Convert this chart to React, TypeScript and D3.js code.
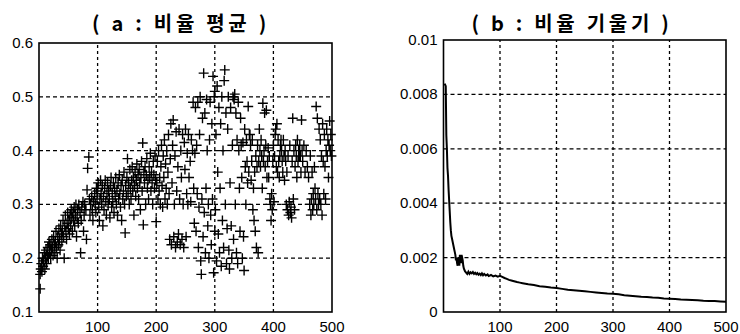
import React, { useEffect, useRef } from 'react';
import * as d3 from 'd3';

// (a) 비율 평균 - scatter points, split by x range
const ptsA: [number, number][] = [
  [2,0.143],[2,0.17],[3,0.18],[4,0.19],[5,0.175],[6,0.2],[7,0.185],[8,0.195],[9,0.21],[10,0.18],
  [11,0.2],[12,0.215],[13,0.19],[14,0.205],[15,0.22],[16,0.2],[17,0.23],[18,0.21],[19,0.225],[20,0.2],
  [21,0.215],[22,0.235],[23,0.22],[24,0.205],[25,0.24],[26,0.225],[27,0.21],[28,0.23],[29,0.25],[30,0.22],
  [31,0.2],[32,0.24],[33,0.225],[34,0.255],[35,0.235],[36,0.215],[37,0.26],[38,0.245],[39,0.23],[40,0.25],
  [41,0.27],[42,0.24],[43,0.2],[44,0.26],[45,0.28],[46,0.25],[47,0.235],[48,0.265],[49,0.285],[50,0.255],
  [51,0.27],[52,0.245],[53,0.28],[54,0.26],[55,0.29],[56,0.275],[57,0.25],[58,0.285],[59,0.27],[60,0.295],
  [61,0.26],[62,0.28],[63,0.3],[64,0.24],[65,0.275],[66,0.29],[67,0.265],[68,0.3],[70,0.285],[71,0.21],
  [72,0.27],[73,0.295],[75,0.305],[76,0.25],[77,0.28],[78,0.3],[80,0.29],[81,0.235],[82,0.327],[83,0.367],
  [85,0.388],[86,0.31],[87,0.28],[88,0.3],[90,0.315],[91,0.29],[92,0.27],[93,0.305],[95,0.32],[96,0.3],
  [97,0.285],[98,0.33],[99,0.31]
];
const ptsB: [number, number][] = [
  [100,0.325],[101,0.34],[102,0.295],[103,0.27],[104,0.31],[105,0.345],[106,0.32],[107,0.3],[108,0.335],[109,0.26],
  [110,0.315],[111,0.29],[112,0.33],[113,0.345],[114,0.305],[115,0.28],[116,0.32],[117,0.34],[118,0.3],[119,0.325],
  [120,0.31],[121,0.275],[122,0.335],[123,0.35],[124,0.295],[125,0.32],[126,0.305],[127,0.34],[128,0.285],[129,0.33],
  [130,0.315],[131,0.35],[132,0.3],[133,0.325],[134,0.28],[135,0.34],[136,0.31],[137,0.355],[138,0.32],[139,0.295],
  [140,0.335],[141,0.27],[142,0.345],[143,0.31],[144,0.325],[145,0.36],[146,0.3],[147,0.247],[148,0.335],[149,0.315],
  [150,0.35],[151,0.385],[152,0.32],[153,0.34],[154,0.3],[155,0.365],[156,0.33],[157,0.31],[158,0.345],[159,0.37],
  [160,0.325],[161,0.35],[162,0.28],[163,0.335],[164,0.36],[165,0.315],[166,0.345],[167,0.375],[168,0.33],[169,0.355],
  [170,0.31],[171,0.365],[172,0.34],[173,0.29],[174,0.35],[175,0.38],[176,0.325],[177,0.414],[178,0.262],[179,0.36],
  [180,0.34],[181,0.37],[182,0.3],[183,0.355],[184,0.385],[185,0.33],[186,0.345],[187,0.31],[188,0.37],[189,0.35],
  [190,0.395],[191,0.325],[192,0.36],[193,0.34],[194,0.3],[195,0.38],[196,0.355],[197,0.33],[198,0.39],[199,0.345],
  [200,0.268]
];
const ptsC: [number, number][] = [
  [201,0.34],[202,0.38],[203,0.31],[204,0.4],[205,0.325],[206,0.35],[207,0.3],[208,0.37],[209,0.41],[210,0.335],
  [211,0.295],[212,0.39],[213,0.35],[214,0.42],[215,0.31],[216,0.375],[217,0.33],[218,0.4],[219,0.3],[220,0.36],
  [221,0.43],[222,0.32],[223,0.235],[224,0.385],[225,0.45],[226,0.225],[227,0.34],[228,0.41],[229,0.457],[230,0.24],
  [231,0.3],[232,0.39],[233,0.22],[234,0.435],[235,0.325],[236,0.23],[237,0.37],[238,0.245],[239,0.44],[240,0.31],
  [241,0.225],[242,0.4],[243,0.35],[244,0.235],[245,0.43],[246,0.3],[247,0.22],[248,0.415],[249,0.365],[250,0.44],
  [251,0.24],[252,0.32],[253,0.395],[254,0.3],[255,0.43],[256,0.35],[258,0.38],[259,0.305],[260,0.42],[262,0.4],
  [263,0.49],[264,0.33],[265,0.265],[266,0.395],[267,0.48],[268,0.25],[269,0.41],[270,0.32],[271,0.49],[272,0.22],
  [273,0.295],[274,0.43],[275,0.5],[276,0.195],[277,0.17],[278,0.31],[279,0.46],[280,0.24],[281,0.544],[282,0.285],
  [283,0.47],[284,0.21],[285,0.33],[286,0.495],[287,0.4],[288,0.26],[289,0.3],[290,0.2],[291,0.42],[292,0.49],
  [293,0.28],[294,0.225],[295,0.45],[296,0.31],[297,0.538],[298,0.173],[299,0.5],[300,0.25]
];
const ptsD: [number, number][] = [
  [300,0.51],[301,0.29],[302,0.43],[303,0.195],[304,0.52],[305,0.36],[306,0.245],[307,0.48],[308,0.21],[309,0.33],
  [310,0.45],[311,0.185],[312,0.5],[313,0.27],[314,0.4],[315,0.22],[316,0.53],[317,0.55],[318,0.3],[319,0.47],
  [320,0.19],[321,0.255],[322,0.44],[323,0.5],[324,0.215],[325,0.18],[326,0.34],[327,0.48],[328,0.26],[329,0.2],
  [330,0.41],[331,0.5],[332,0.235],[333,0.495],[334,0.505],[335,0.3],[336,0.47],[337,0.21],[338,0.42],[339,0.19],
  [340,0.49],[341,0.4],[342,0.33],[343,0.25],[344,0.46],[345,0.41],[346,0.35],[347,0.2],[348,0.415],[349,0.24],
  [350,0.177],[351,0.44],[352,0.37],[353,0.3],[354,0.42],[355,0.38],[356,0.34],[357,0.482],[358,0.36],[359,0.43],
  [360,0.43],[361,0.41],[362,0.345],[363,0.38],[364,0.42],[365,0.29],[366,0.33],[367,0.27],[368,0.36],[369,0.25],
  [370,0.39],[371,0.22],[372,0.37],[373,0.41],[374,0.21],[375,0.38],[376,0.44],[377,0.4],[378,0.37],[379,0.42],
  [380,0.39],[381,0.33],[382,0.488],[383,0.38],[384,0.4],[385,0.47],[386,0.37],[387,0.41],[388,0.475],[389,0.35],
  [390,0.38],[391,0.405],[392,0.35],[393,0.39],[394,0.31],[395,0.3],[396,0.27],[397,0.32],[398,0.29],[399,0.38]
];
const ptsE: [number, number][] = [
  [400,0.41],[401,0.305],[402,0.39],[403,0.43],[404,0.44],[405,0.37],[406,0.45],[407,0.36],[408,0.42],[409,0.38],
  [410,0.35],[411,0.39],[412,0.41],[413,0.42],[414,0.4],[415,0.38],[416,0.36],[417,0.42],[418,0.39],[419,0.345],
  [420,0.4],[421,0.38],[422,0.3],[423,0.36],[424,0.29],[425,0.39],[426,0.28],[427,0.305],[428,0.41],[429,0.285],
  [430,0.295],[431,0.275],[432,0.38],[433,0.46],[434,0.31],[435,0.4],[436,0.29],[437,0.37],[438,0.41],[439,0.39],
  [440,0.35],[441,0.42],[442,0.38],[443,0.4],[444,0.39],[445,0.41],[446,0.39],[447,0.36],[448,0.457],[449,0.4],
  [450,0.38],[452,0.41],[454,0.36],[456,0.4],[458,0.37],[460,0.35],[462,0.3],[463,0.39],[464,0.28],[465,0.31],
  [466,0.36],[467,0.29],[468,0.32],[469,0.3],[470,0.37],[471,0.33],[472,0.31],[473,0.482],[474,0.29],[475,0.46],
  [476,0.32],[477,0.3],[478,0.44],[479,0.31],[480,0.42],[481,0.3],[482,0.39],[483,0.28],[484,0.45],[485,0.38],
  [486,0.32],[487,0.43],[488,0.37],[489,0.31],[490,0.4],[491,0.44],[492,0.39],[493,0.42],[494,0.35],[495,0.41],
  [496,0.455],[497,0.4],[498,0.43],[499,0.39]
];

// (b) 비율 기울기 - line
const slopePts: [number, number][] = [
  [2,0.0084],[4,0.0083],[5,0.0065],[6,0.006],[7,0.0053],[8,0.005],[9,0.0045],[10,0.0041],[11,0.0037],[12,0.0033],
  [13,0.003],[14,0.0028],[15,0.0027],[16,0.0026],[17,0.0025],[18,0.0024],[19,0.0023],[20,0.0022],[21,0.0021],[22,0.0019],
  [23,0.002],[24,0.0018],[25,0.0017],[26,0.0019],[27,0.002],[28,0.0017],[29,0.0021],[30,0.002],[31,0.0018],[32,0.0021],
  [33,0.002],[34,0.0019],[35,0.0017],[36,0.0016],[38,0.0015],[40,0.00145],[42,0.0014],[44,0.00148],[46,0.0014],[48,0.00146],
  [50,0.00142],[52,0.00147],[54,0.0014],[56,0.00144],[58,0.00139],[60,0.00143],[62,0.00137],[64,0.00141],[66,0.00136],[68,0.00142],
  [70,0.00135],[72,0.0014],[75,0.00134],[78,0.00138],[80,0.00132],[84,0.00136],[88,0.00131],[92,0.00134],[96,0.0013],[100,0.00133],
  [104,0.00129],[108,0.00125],[112,0.00122],[116,0.00118],[120,0.00116],[125,0.00113],[130,0.0011],[135,0.00108],[140,0.00106],[145,0.00104],
  [150,0.00102],[160,0.00099],[170,0.00095],[180,0.00093],[190,0.0009],[200,0.00088],[210,0.00085],[220,0.00082],[230,0.0008],[240,0.00078],
  [250,0.00076],[260,0.00074],[270,0.00072],[280,0.0007],[290,0.00068],[300,0.00067],[310,0.00065],[320,0.00062],[330,0.0006],[340,0.00058],
  [350,0.00056],[360,0.00055],[370,0.00053],[380,0.00052],[390,0.0005],[400,0.00049],[410,0.00048],[420,0.00046],[430,0.00045],[440,0.00044],
  [450,0.00043],[460,0.00041],[470,0.0004],[480,0.0004],[490,0.00039],[500,0.00038]
];

const xTicks = [100, 200, 300, 400, 500];
const yTicksA = [0.1, 0.2, 0.3, 0.4, 0.5, 0.6];
const yTicksB = [0, 0.002, 0.004, 0.006, 0.008, 0.01];
const titleA = '( a : 비율 평균 )';
const titleB = '( b : 비율 기울기 )';

const FONT = 'Liberation Sans, Arial, sans-serif';
const TITLE_FONT = '"Noto Sans CJK KR", sans-serif';

function drawPanel(svg, opts) {
  const { x, y, yTicks, yFmt, title, titleX } = opts;
  const [x0, x1] = x.range();
  const [y0, y1] = y.range();
  const g = svg.append('g');

  // grid
  xTicks.filter(t => t < 500).forEach(t => {
    g.append('line')
      .attr('x1', x(t)).attr('x2', x(t))
      .attr('y1', y0).attr('y2', y1)
      .attr('stroke', '#000').attr('stroke-width', 1.3)
      .attr('stroke-dasharray', '3,3');
  });
  yTicks.slice(1, -1).forEach(t => {
    g.append('line')
      .attr('x1', x0).attr('x2', x1)
      .attr('y1', y(t)).attr('y2', y(t))
      .attr('stroke', '#000').attr('stroke-width', 1.3)
      .attr('stroke-dasharray', '4,3');
  });

  // frame
  g.append('rect')
    .attr('x', x0).attr('y', y1)
    .attr('width', x1 - x0).attr('height', y0 - y1)
    .attr('fill', 'none').attr('stroke', '#000').attr('stroke-width', 1.6);

  // tick labels
  yTicks.forEach(t => {
    g.append('text')
      .attr('x', x0 - 6).attr('y', y(t) + 5)
      .attr('text-anchor', 'end')
      .attr('font-family', FONT).attr('font-size', 15)
      .text(yFmt(t));
  });
  xTicks.forEach(t => {
    g.append('text')
      .attr('x', x(t)).attr('y', 332)
      .attr('text-anchor', 'middle')
      .attr('font-family', FONT).attr('font-size', 15)
      .text(t);
  });

  g.append('text')
    .attr('x', titleX).attr('y', 31)
    .attr('text-anchor', 'middle')
    .attr('font-family', TITLE_FONT).attr('font-size', 20)
    .attr('font-weight', 'bold')
    .attr('letter-spacing', 3.7)
    .text(title);
  return g;
}

const App = () => {
  const ref = useRef(null);

  useEffect(() => {
    const svg = d3.select(ref.current);
    svg.selectAll('*').remove();

    // left panel
    const xa = d3.scaleLinear().domain([0, 500]).range([39, 332]);
    const ya = d3.scaleLinear().domain([0.1, 0.6]).range([312, 43]);
    const ga = drawPanel(svg, { x: xa, y: ya, yTicks: yTicksA, yFmt: d3.format('.1f'), title: titleA, titleX: 181 });

    const allPts = [...ptsA, ...ptsB, ...ptsC, ...ptsD, ...ptsE];
    const s = 5;
    ga.append('path')
      .attr('d', allPts.map(([px, py]) => {
        const cx = xa(px), cy = ya(py);
        return `M${cx - s},${cy}H${cx + s}M${cx},${cy - s}V${cy + s}`;
      }).join(''))
      .attr('stroke', '#000').attr('stroke-width', 1.4).attr('fill', 'none');

    // right panel
    const xb = d3.scaleLinear().domain([0, 500]).range([443.5, 726]);
    const yb = d3.scaleLinear().domain([0, 0.01]).range([312, 40]);
    const gb = drawPanel(svg, {
      x: xb, y: yb, yTicks: yTicksB,
      yFmt: d => (d === 0 ? '0' : d === 0.01 ? '0.01' : d3.format('.3f')(d)),
      title: titleB, titleX: 572
    });

    const line = d3.line<[number, number]>().x(d => xb(d[0])).y(d => yb(d[1]));
    gb.append('path')
      .datum(slopePts)
      .attr('d', line)
      .attr('fill', 'none').attr('stroke', '#000').attr('stroke-width', 2);
  }, []);

  return (
    <svg ref={ref} width={740} height={334}
      style={{ position: 'absolute', left: 0, top: 0, background: '#fff' }} />
  );
};

export default App;
